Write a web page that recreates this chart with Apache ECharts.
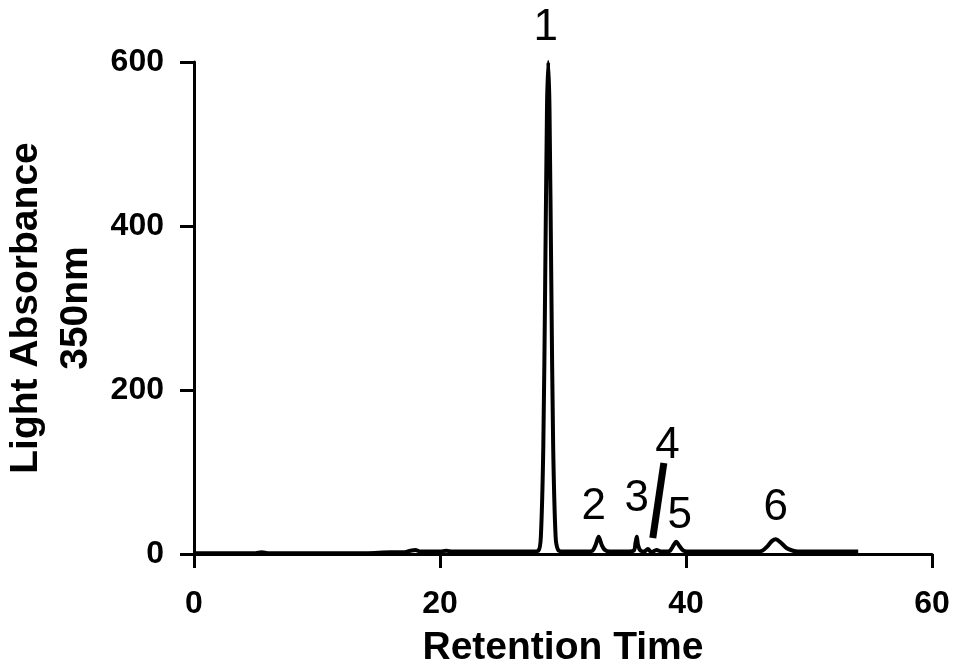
<!DOCTYPE html>
<html>
<head>
<meta charset="utf-8">
<script src="https://cdn.jsdelivr.net/npm/echarts@6/dist/echarts.min.js"></script>
<style>
html,body{margin:0;padding:0;background:#fff;}
#chart{width:958px;height:668px;}
</style>
</head>
<body>
<div id="chart"></div>
<script>
// Retention time (min) and absorbance
const retentionTime = [0, 1, 2, 3, 4, 5, 5.5, 6, 7, 8, 10, 12, 14, 16, 17, 17.6, 18, 18.4, 19, 20, 20.5, 21, 22, 24, 26, 27.5,
  28.0, 28.2, 28.4, 28.55, 28.7, 28.8, 28.9, 29.05, 29.2, 29.4, 29.6, 30, 31, 32,
  32.4, 32.65, 32.9, 33.15, 33.4, 33.8, 34.5, 35.2, 35.75, 35.9, 36.0, 36.1, 36.3, 36.6, 36.9, 37.2, 37.6, 38.0, 38.4,
  38.7, 39.0, 39.2, 39.45, 39.8, 40.3, 41, 42, 43, 44, 45, 45.8, 46.2, 46.6, 47.0, 47.3, 47.7, 48.2, 48.7, 49.1, 49.6,
  50, 51, 52, 53, 54];
const absorbance = [1, 1, 1, 1, 1, 1, 2, 1, 1, 1, 1, 1, 1, 2, 2, 4, 5, 3, 3, 3, 4, 3, 3, 3, 3, 3,
  4, 21, 132, 330, 545, 600, 545, 330, 132, 21, 5, 3, 3, 3,
  4, 11, 21, 11, 5, 3, 3, 3, 4, 14, 21, 11, 4, 3, 6, 2, 5, 3, 3,
  4, 11, 15, 10, 4, 3, 3, 3, 3, 3, 3, 3, 4, 9, 16, 18, 14, 7, 4, 3, 3,
  3, 3, 3, 3, 3];
// Peak labels
const peakNames = ['1', '2', '3', '4', '5', '6'];
const peakLabelX = [28.6, 32.5, 36.0, 38.5, 39.5, 47.3];
const peakLabelY = [642, 58, 67, 132, 46, 56];
// Pointer line for peak 4
const pointerX = [38.2, 37.3];
const pointerY = [111, 19.5];
// Axis ticks
const xTicks = [0, 20, 40, 60];
const yTicks = [0, 200, 400, 600];

const traceData = retentionTime.map((t, i) => [t, absorbance[i]]);
const labelData = peakNames.map((n, i) => [peakLabelX[i], peakLabelY[i], n]);
const pointerData = pointerX.map((x, i) => [x, pointerY[i]]);

const chart = echarts.init(document.getElementById('chart'), null, {renderer: 'canvas'});
const font = '"Liberation Sans", Arial, Helvetica, sans-serif';
chart.setOption({
  animation: false,
  backgroundColor: '#fff',
  grid: {left: 194, right: 26, top: 62, bottom: 114, containLabel: false, outerBoundsMode: 'none'},
  xAxis: {
    type: 'value', min: xTicks[0], max: xTicks[xTicks.length - 1], interval: 20,
    name: 'Retention Time', nameLocation: 'middle', nameGap: 75, nameMoveOverlap: false,
    nameTextStyle: {fontFamily: font, fontWeight: 'bold', fontSize: 39, color: '#000'},
    axisLine: {show: true, lineStyle: {color: '#000', width: 3}},
    axisTick: {show: true, inside: false, length: 14, lineStyle: {color: '#000', width: 3}},
    axisLabel: {fontFamily: font, fontWeight: 'bold', fontSize: 32, color: '#000', margin: 34},
    splitLine: {show: false}
  },
  yAxis: {
    type: 'value', min: yTicks[0], max: yTicks[yTicks.length - 1], interval: 200,
    name: 'Light Absorbance\n350nm', nameLocation: 'middle', nameGap: 93, nameRotate: 90, nameMoveOverlap: false,
    nameTextStyle: {fontFamily: font, fontWeight: 'bold', fontSize: 39, color: '#000', lineHeight: 50, align: 'center'},
    axisLine: {show: true, lineStyle: {color: '#000', width: 3}},
    axisTick: {show: true, inside: false, length: 14, lineStyle: {color: '#000', width: 3}},
    axisLabel: {fontFamily: font, fontWeight: 'bold', fontSize: 32, color: '#000', margin: 30},
    splitLine: {show: false}
  },
  series: [
    {
      type: 'line', data: traceData, showSymbol: false, smooth: 0.3,
      lineStyle: {color: '#000', width: 4}, z: 3
    },
    {
      type: 'line', data: pointerData, showSymbol: false,
      lineStyle: {color: '#000', width: 7}, z: 4
    },
    {
      type: 'scatter', data: labelData, symbolSize: 0, clip: false,
      itemStyle: {color: '#000', opacity: 1},
      label: {
        show: true, position: [0, 0], align: 'center', verticalAlign: 'middle',
        formatter: p => p.value[2],
        fontFamily: font, fontSize: 44, color: '#000', textBorderWidth: 0
      },
      z: 5
    }
  ]
});
</script>
</body>
</html>
